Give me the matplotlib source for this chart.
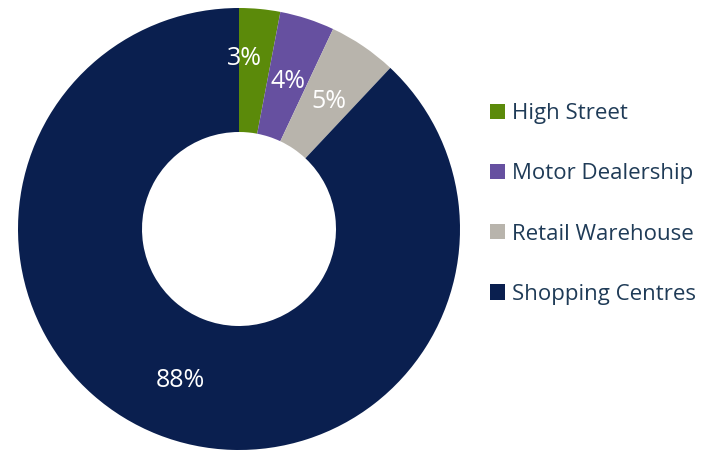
import numpy as np
import matplotlib.pyplot as plt
import matplotlib.transforms as mtransforms
from matplotlib.patches import Patch

categories = ["High Street", "Motor Dealership", "Retail Warehouse", "Shopping Centres"]
shares = [3, 4, 5, 88]
colors = ["#5B8A0A", "#6650A0", "#B8B4AC", "#0A1F4F"]

plt.rcParams['font.family'] = ['Open Sans', 'DejaVu Sans']

fig = plt.figure(figsize=(7.02, 4.5), dpi=100)
ax = fig.add_axes([18 / 702, 0.0, 442 / 702, 442 / 450])

wedges, _ = ax.pie(shares, colors=colors, startangle=90, counterclock=False,
                   radius=1.0, wedgeprops=dict(width=1 - 97 / 221, linewidth=0))
ax.set_xlim(-1, 1)
ax.set_ylim(-1, 1)
ax.set_aspect('equal')

# percentage labels at the middle of each ring segment
label_tf = mtransforms.offset_copy(ax.transData, fig=fig, y=-4, units='dots')
total = sum(shares)
cum = np.cumsum([0] + shares)
for i, v in enumerate(shares):
    mid = (cum[i] + cum[i + 1]) / 2 / total * 360
    r = 0.72
    if i == 0:
        mid -= 3.5
        r = 0.79
    theta = np.deg2rad(90 - mid)
    ax.text(r * np.cos(theta), r * np.sin(theta), f"{v}%", color="white",
            fontsize=18, ha="center", va="center", transform=label_tf)

handles = [Patch(facecolor=c, edgecolor='none') for c in colors]
leg = fig.legend(handles, categories, loc="center left",
                 bbox_to_anchor=(490 / 702, 1 - 204 / 450), frameon=False,
                 borderaxespad=0, borderpad=0,
                 fontsize=16, labelspacing=1.76, handlelength=0.68,
                 handleheight=0.68, handletextpad=0.3, labelcolor="#1F3B57")

fig.savefig("out.png", dpi=100)
